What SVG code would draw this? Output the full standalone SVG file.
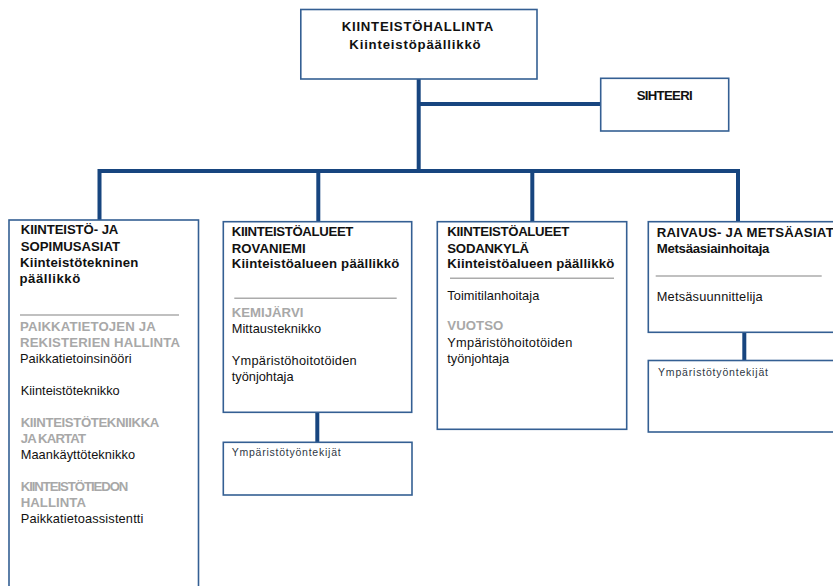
<svg xmlns="http://www.w3.org/2000/svg" width="833" height="586" viewBox="0 0 833 586">
<style>
.box{fill:#ffffff;stroke:#345f93;stroke-width:1.6}
.con{fill:none;stroke:#17457f;stroke-width:4;stroke-linejoin:miter}
.sep{stroke:#ababab;stroke-width:1.5}
text{font-family:"Liberation Sans",Arial,sans-serif;font-size:12.8px;fill:#111111}
.b{font-weight:bold;font-size:13.2px}
.g{font-weight:bold;font-size:13.2px;fill:#a8a8a8}
.s{font-size:10.5px;fill:#2e3744}
</style>
<rect width="833" height="586" fill="#ffffff"/>
<g id="connectors">
<path class="con" d="M418.7,79 V171"/>
<path class="con" d="M418.7,104 H601"/>
<path class="con" d="M99.5,220 V171 H738 V221.7"/>
<path class="con" d="M318.3,171 V221.7"/>
<path class="con" d="M532.3,171 V221.7"/>
<path class="con" d="M317.3,412.3 V442.3"/>
<path class="con" d="M744.3,332.3 V360.5"/>
</g>
<g id="kiinteistohallinta">
<rect class="box" x="300.8" y="9.5" width="236.2" height="69.5"/>
<text class="b" x="341.7" y="31" textLength="151.7" lengthAdjust="spacing">KIINTEISTÖHALLINTA</text>
<text class="b" x="349.3" y="49" textLength="131.3" lengthAdjust="spacing">Kiinteistöpäällikkö</text>
</g>
<g id="sihteeri">
<rect class="box" x="600.7" y="78.3" width="128" height="52.7"/>
<text class="b" x="636.7" y="100" textLength="56" lengthAdjust="spacing">SIHTEERI</text>
</g>
<g id="kiinteisto-sopimusasiat">
<rect class="box" x="9" y="220" width="189.5" height="380"/>
<text class="b" x="20.7" y="234" textLength="97.7" lengthAdjust="spacing">KIINTEISTÖ- JA</text>
<text class="b" x="20.7" y="250.7" textLength="99.3" lengthAdjust="spacing">SOPIMUSASIAT</text>
<text class="b" x="20" y="266.5" textLength="118.3" lengthAdjust="spacing">Kiinteistötekninen</text>
<text class="b" x="19.5" y="282.7" textLength="60.7" lengthAdjust="spacing">päällikkö</text>
<line class="sep" x1="20" y1="315" x2="179" y2="315"/>
<text class="g" x="20" y="330.7" textLength="135.7" lengthAdjust="spacing">PAIKKATIETOJEN JA</text>
<text class="g" x="20" y="347" textLength="160" lengthAdjust="spacing">REKISTERIEN HALLINTA</text>
<text x="20" y="363" textLength="111.7" lengthAdjust="spacing">Paikkatietoinsinööri</text>
<text x="20.7" y="395" textLength="99" lengthAdjust="spacing">Kiinteistöteknikko</text>
<text class="g" x="20.7" y="426.7" textLength="138.7" lengthAdjust="spacing">KIINTEISTÖTEKNIIKKA</text>
<text class="g" x="20.7" y="442.7" textLength="65.3" lengthAdjust="spacing">JA KARTAT</text>
<text x="20.7" y="459" textLength="114.3" lengthAdjust="spacing">Maankäyttöteknikko</text>
<text class="g" x="20.7" y="490.7" textLength="107.7" lengthAdjust="spacing">KIINTEISTÖTIEDON</text>
<text class="g" x="20.7" y="507" textLength="65.3" lengthAdjust="spacing">HALLINTA</text>
<text x="20.7" y="523" textLength="122.7" lengthAdjust="spacing">Paikkatietoassistentti</text>
</g>
<g id="rovaniemi">
<rect class="box" x="223.3" y="221.7" width="188.4" height="190.6"/>
<text class="b" x="231.7" y="236" textLength="121.7" lengthAdjust="spacing">KIINTEISTÖALUEET</text>
<text class="b" x="231.7" y="252.7" textLength="74" lengthAdjust="spacing">ROVANIEMI</text>
<text class="b" x="231.7" y="268.3" textLength="167.7" lengthAdjust="spacing">Kiinteistöalueen päällikkö</text>
<line class="sep" x1="234.3" y1="298.3" x2="396.7" y2="298.3"/>
<text class="g" x="231.7" y="316.7" textLength="71.7" lengthAdjust="spacing">KEMIJÄRVI</text>
<text x="231.7" y="332.7" textLength="89.3" lengthAdjust="spacing">Mittausteknikko</text>
<text x="231.7" y="365" textLength="125" lengthAdjust="spacing">Ympäristöhoitotöiden</text>
<text x="231.7" y="381.3">työnjohtaja</text>
</g>
<g id="rovaniemi-tyontekijat">
<rect class="box" x="223.3" y="442.3" width="188.7" height="52.7"/>
<text class="s" x="231.7" y="456" textLength="109" lengthAdjust="spacing">Ympäristötyöntekijät</text>
</g>
<g id="sodankyla">
<rect class="box" x="437.3" y="221.7" width="189.4" height="207.6"/>
<text class="b" x="447.3" y="236" textLength="122" lengthAdjust="spacing">KIINTEISTÖALUEET</text>
<text class="b" x="447.3" y="252.7" textLength="81.7" lengthAdjust="spacing">SODANKYLÄ</text>
<text class="b" x="447.3" y="268.3" textLength="167" lengthAdjust="spacing">Kiinteistöalueen päällikkö</text>
<line class="sep" x1="450" y1="278.3" x2="614" y2="278.3"/>
<text x="447.3" y="300" textLength="92" lengthAdjust="spacing">Toimitilanhoitaja</text>
<text class="g" x="447.3" y="330" textLength="56" lengthAdjust="spacing">VUOTSO</text>
<text x="447.3" y="346.7" textLength="125" lengthAdjust="spacing">Ympäristöhoitotöiden</text>
<text x="447.3" y="363">työnjohtaja</text>
</g>
<g id="raivaus-metsaasiat">
<rect class="box" x="648.3" y="221.7" width="200" height="110.6"/>
<text class="b" x="656.7" y="236.7" textLength="177" lengthAdjust="spacing">RAIVAUS- JA METSÄASIAT</text>
<text class="b" x="656.7" y="253.3" textLength="112.7" lengthAdjust="spacing">Metsäasiainhoitaja</text>
<line class="sep" x1="655.7" y1="276" x2="821.7" y2="276"/>
<text x="656.7" y="300.7" textLength="106" lengthAdjust="spacing">Metsäsuunnittelija</text>
</g>
<g id="raivaus-tyontekijat">
<rect class="box" x="648.3" y="360.5" width="200" height="71.5"/>
<text class="s" x="658" y="376" textLength="110" lengthAdjust="spacing">Ympäristötyöntekijät</text>
</g>
</svg>
